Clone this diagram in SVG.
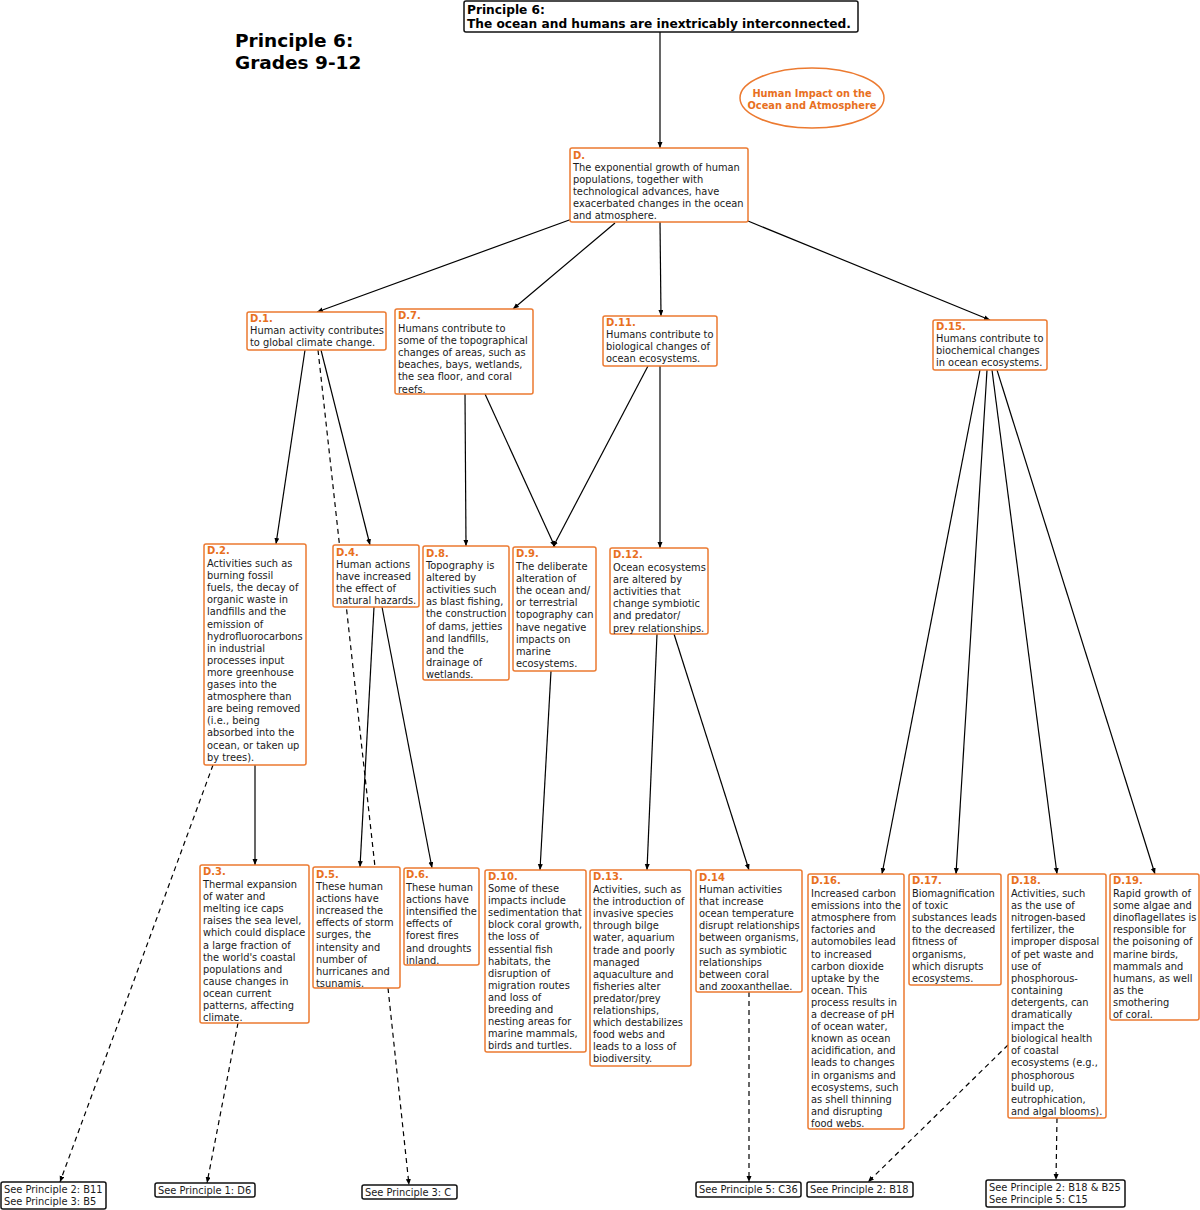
<svg xmlns="http://www.w3.org/2000/svg" width="1200" height="1210" viewBox="0 0 1200 1210">
<style>
.bg{fill:#fff}
.box{fill:#fff;stroke:#EC7A30;stroke-width:1.5}
.ref{fill:#fff;stroke:#111;stroke-width:1.5}
.lbl{font-family:"DejaVu Sans",Verdana,sans-serif;font-weight:bold;font-size:10px;fill:#E8701E}
.t{font-family:"DejaVu Sans",Verdana,sans-serif;font-size:9.85px;fill:#1a1a1a}
.tb{font-family:"DejaVu Sans",Verdana,sans-serif;font-weight:bold;fill:#000}
.ell{font-family:"DejaVu Sans",Verdana,sans-serif;font-weight:bold;font-size:9.8px;fill:#E8701E}
.c{stroke:#000;stroke-width:1.2;fill:none}
.d{stroke-dasharray:5 4}
</style>
<defs>
<marker id="ar" markerUnits="userSpaceOnUse" markerWidth="7" markerHeight="6" refX="6" refY="2.5" orient="auto">
<path d="M0,0 L6,2.5 L0,5 z" fill="#000"/>
</marker>
</defs>
<rect class="bg" x="0" y="0" width="1200" height="1210"/>

<g id="connectors">
<line class="c" x1="660" y1="32" x2="660" y2="148" marker-end="url(#ar)"/>
<line class="c" x1="572" y1="219" x2="317" y2="312" marker-end="url(#ar)"/>
<line class="c" x1="615" y1="223" x2="513" y2="309" marker-end="url(#ar)"/>
<line class="c" x1="660" y1="222" x2="661" y2="316" marker-end="url(#ar)"/>
<line class="c" x1="748" y1="221" x2="990" y2="320" marker-end="url(#ar)"/>
<line class="c" x1="305" y1="350" x2="276" y2="544" marker-end="url(#ar)"/>
<line class="c" x1="321" y1="350" x2="370" y2="545" marker-end="url(#ar)"/>
<line class="c d" x1="318" y1="350" x2="375" y2="867"/>
<line class="c" x1="465" y1="394" x2="466" y2="546" marker-end="url(#ar)"/>
<line class="c" x1="485" y1="394" x2="555" y2="547" marker-end="url(#ar)"/>
<line class="c" x1="648" y1="366" x2="553" y2="547" marker-end="url(#ar)"/>
<line class="c" x1="660" y1="366" x2="660" y2="548" marker-end="url(#ar)"/>
<line class="c" x1="980" y1="370" x2="882" y2="874" marker-end="url(#ar)"/>
<line class="c" x1="987" y1="370" x2="956" y2="874" marker-end="url(#ar)"/>
<line class="c" x1="992" y1="370" x2="1057" y2="874" marker-end="url(#ar)"/>
<line class="c" x1="997" y1="370" x2="1155" y2="874" marker-end="url(#ar)"/>
<line class="c" x1="255" y1="765" x2="255" y2="865" marker-end="url(#ar)"/>
<line class="c d" x1="213" y1="765" x2="60" y2="1182" marker-end="url(#ar)"/>
<line class="c" x1="374" y1="607" x2="360" y2="867" marker-end="url(#ar)"/>
<line class="c" x1="382" y1="607" x2="432" y2="868" marker-end="url(#ar)"/>
<line class="c" x1="551" y1="671" x2="540" y2="870" marker-end="url(#ar)"/>
<line class="c" x1="657" y1="634" x2="647" y2="870" marker-end="url(#ar)"/>
<line class="c" x1="674" y1="634" x2="749" y2="870" marker-end="url(#ar)"/>
<line class="c d" x1="238" y1="1023" x2="207" y2="1183" marker-end="url(#ar)"/>
<line class="c d" x1="388" y1="988" x2="409" y2="1185" marker-end="url(#ar)"/>
<line class="c d" x1="749" y1="992" x2="749" y2="1182" marker-end="url(#ar)"/>
<line class="c d" x1="1008" y1="1045" x2="868" y2="1182" marker-end="url(#ar)"/>
<line class="c d" x1="1057" y1="1118" x2="1056" y2="1180" marker-end="url(#ar)"/>
</g>

<g id="header">
<text class="tb" font-size="18.5" x="235" y="47">Principle 6:</text>
<text class="tb" font-size="18.5" x="235" y="69">Grades 9-12</text>
</g>

<g id="title">
<rect class="ref" x="464" y="1" width="394" height="31" rx="2"/>
<text class="tb" font-size="12.2" x="467" y="13.5">Principle 6:</text>
<text class="tb" font-size="12.2" x="467" y="28">The ocean and humans are inextricably interconnected.</text>
</g>

<g id="topic">
<ellipse cx="812" cy="98" rx="72" ry="30" fill="#fff" stroke="#EC7A30" stroke-width="1.5"/>
<text class="ell" x="812" y="97" text-anchor="middle">Human Impact on the</text>
<text class="ell" x="812" y="109" text-anchor="middle">Ocean and Atmosphere</text>
</g>

<g id="D">
<rect class="box" x="570" y="148" width="178" height="74" rx="2"/>
<text class="lbl" x="573" y="159">D.</text>
<text class="t" x="573" y="171"><tspan x="573">The exponential growth of human</tspan><tspan x="573" dy="12">populations, together with</tspan><tspan x="573" dy="12">technological advances, have</tspan><tspan x="573" dy="12">exacerbated changes in the ocean</tspan><tspan x="573" dy="12">and atmosphere.</tspan></text>
</g>

<g id="D1">
<rect class="box" x="247" y="312" width="139" height="38" rx="2"/>
<text class="lbl" x="250" y="322">D.1.</text>
<text class="t" x="250" y="334"><tspan x="250">Human activity contributes</tspan><tspan x="250" dy="12">to global climate change.</tspan></text>
</g>

<g id="D7">
<rect class="box" x="395" y="309" width="138" height="85" rx="2"/>
<text class="lbl" x="398" y="319">D.7.</text>
<text class="t" x="398" y="332"><tspan x="398">Humans contribute to</tspan><tspan x="398" dy="12.1">some of the topographical</tspan><tspan x="398" dy="12.1">changes of areas, such as</tspan><tspan x="398" dy="12.1">beaches, bays, wetlands,</tspan><tspan x="398" dy="12.1">the sea floor, and coral</tspan><tspan x="398" dy="12.1">reefs.</tspan></text>
</g>

<g id="D11">
<rect class="box" x="603" y="316" width="114" height="50" rx="2"/>
<text class="lbl" x="606" y="326">D.11.</text>
<text class="t" x="606" y="338"><tspan x="606">Humans contribute to</tspan><tspan x="606" dy="12">biological changes of</tspan><tspan x="606" dy="12">ocean ecosystems.</tspan></text>
</g>

<g id="D15">
<rect class="box" x="933" y="320" width="114" height="50" rx="2"/>
<text class="lbl" x="936" y="330">D.15.</text>
<text class="t" x="936" y="342"><tspan x="936">Humans contribute to</tspan><tspan x="936" dy="12">biochemical changes</tspan><tspan x="936" dy="12">in ocean ecosystems.</tspan></text>
</g>

<g id="D2">
<rect class="box" x="204" y="544" width="102" height="221" rx="2"/>
<text class="lbl" x="207" y="554">D.2.</text>
<text class="t" x="207" y="567"><tspan x="207">Activities such as</tspan><tspan x="207" dy="12.1">burning fossil</tspan><tspan x="207" dy="12.1">fuels, the decay of</tspan><tspan x="207" dy="12.1">organic waste in</tspan><tspan x="207" dy="12.1">landfills and the</tspan><tspan x="207" dy="12.1">emission of</tspan><tspan x="207" dy="12.1">hydrofluorocarbons</tspan><tspan x="207" dy="12.1">in industrial</tspan><tspan x="207" dy="12.1">processes input</tspan><tspan x="207" dy="12.1">more greenhouse</tspan><tspan x="207" dy="12.1">gases into the</tspan><tspan x="207" dy="12.1">atmosphere than</tspan><tspan x="207" dy="12.1">are being removed</tspan><tspan x="207" dy="12.1">(i.e., being</tspan><tspan x="207" dy="12.1">absorbed into the</tspan><tspan x="207" dy="12.1">ocean, or taken up</tspan><tspan x="207" dy="12.1">by trees).</tspan></text>
</g>

<g id="D4">
<rect class="box" x="333" y="545" width="86" height="62" rx="2"/>
<text class="lbl" x="336" y="556">D.4.</text>
<text class="t" x="336" y="568"><tspan x="336">Human actions</tspan><tspan x="336" dy="12">have increased</tspan><tspan x="336" dy="12">the effect of</tspan><tspan x="336" dy="12">natural hazards.</tspan></text>
</g>

<g id="D8">
<rect class="box" x="423" y="546" width="86" height="134" rx="2"/>
<text class="lbl" x="426" y="557">D.8.</text>
<text class="t" x="426" y="569"><tspan x="426">Topography is</tspan><tspan x="426" dy="12.1">altered by</tspan><tspan x="426" dy="12.1">activities such</tspan><tspan x="426" dy="12.1">as blast fishing,</tspan><tspan x="426" dy="12.1">the construction</tspan><tspan x="426" dy="12.1">of dams, jetties</tspan><tspan x="426" dy="12.1">and landfills,</tspan><tspan x="426" dy="12.1">and the</tspan><tspan x="426" dy="12.1">drainage of</tspan><tspan x="426" dy="12.1">wetlands.</tspan></text>
</g>

<g id="D9">
<rect class="box" x="513" y="547" width="83" height="124" rx="2"/>
<text class="lbl" x="516" y="557">D.9.</text>
<text class="t" x="516" y="570"><tspan x="516">The deliberate</tspan><tspan x="516" dy="12.1">alteration of</tspan><tspan x="516" dy="12.1">the ocean and/</tspan><tspan x="516" dy="12.1">or terrestrial</tspan><tspan x="516" dy="12.1">topography can</tspan><tspan x="516" dy="12.1">have negative</tspan><tspan x="516" dy="12.1">impacts on</tspan><tspan x="516" dy="12.1">marine</tspan><tspan x="516" dy="12.1">ecosystems.</tspan></text>
</g>

<g id="D12">
<rect class="box" x="610" y="548" width="98" height="86" rx="2"/>
<text class="lbl" x="613" y="558">D.12.</text>
<text class="t" x="613" y="571"><tspan x="613">Ocean ecosystems</tspan><tspan x="613" dy="12.1">are altered by</tspan><tspan x="613" dy="12.1">activities that</tspan><tspan x="613" dy="12.1">change symbiotic</tspan><tspan x="613" dy="12.1">and predator/</tspan><tspan x="613" dy="12.1">prey relationships.</tspan></text>
</g>

<g id="D3">
<rect class="box" x="200" y="865" width="109" height="158" rx="2"/>
<text class="lbl" x="203" y="875">D.3.</text>
<text class="t" x="203" y="888"><tspan x="203">Thermal expansion</tspan><tspan x="203" dy="12.1">of water and</tspan><tspan x="203" dy="12.1">melting ice caps</tspan><tspan x="203" dy="12.1">raises the sea level,</tspan><tspan x="203" dy="12.1">which could displace</tspan><tspan x="203" dy="12.1">a large fraction of</tspan><tspan x="203" dy="12.1">the world's coastal</tspan><tspan x="203" dy="12.1">populations and</tspan><tspan x="203" dy="12.1">cause changes in</tspan><tspan x="203" dy="12.1">ocean current</tspan><tspan x="203" dy="12.1">patterns, affecting</tspan><tspan x="203" dy="12.1">climate.</tspan></text>
</g>

<g id="D5">
<rect class="box" x="313" y="867" width="87" height="121" rx="2"/>
<text class="lbl" x="316" y="878">D.5.</text>
<text class="t" x="316" y="890"><tspan x="316">These human</tspan><tspan x="316" dy="12.1">actions have</tspan><tspan x="316" dy="12.1">increased the</tspan><tspan x="316" dy="12.1">effects of storm</tspan><tspan x="316" dy="12.1">surges, the</tspan><tspan x="316" dy="12.1">intensity and</tspan><tspan x="316" dy="12.1">number of</tspan><tspan x="316" dy="12.1">hurricanes and</tspan><tspan x="316" dy="12.1">tsunamis.</tspan></text>
</g>

<g id="D6">
<rect class="box" x="404" y="868" width="75" height="97" rx="2"/>
<text class="lbl" x="406" y="878">D.6.</text>
<text class="t" x="406" y="891"><tspan x="406">These human</tspan><tspan x="406" dy="12.1">actions have</tspan><tspan x="406" dy="12.1">intensified the</tspan><tspan x="406" dy="12.1">effects of</tspan><tspan x="406" dy="12.1">forest fires</tspan><tspan x="406" dy="12.1">and droughts</tspan><tspan x="406" dy="12.1">inland.</tspan></text>
</g>

<g id="D10">
<rect class="box" x="485" y="870" width="101" height="182" rx="2"/>
<text class="lbl" x="488" y="880">D.10.</text>
<text class="t" x="488" y="892"><tspan x="488">Some of these</tspan><tspan x="488" dy="12.1">impacts include</tspan><tspan x="488" dy="12.1">sedimentation that</tspan><tspan x="488" dy="12.1">block coral growth,</tspan><tspan x="488" dy="12.1">the loss of</tspan><tspan x="488" dy="12.1">essential fish</tspan><tspan x="488" dy="12.1">habitats, the</tspan><tspan x="488" dy="12.1">disruption of</tspan><tspan x="488" dy="12.1">migration routes</tspan><tspan x="488" dy="12.1">and loss of</tspan><tspan x="488" dy="12.1">breeding and</tspan><tspan x="488" dy="12.1">nesting areas for</tspan><tspan x="488" dy="12.1">marine mammals,</tspan><tspan x="488" dy="12.1">birds and turtles.</tspan></text>
</g>

<g id="D13">
<rect class="box" x="590" y="870" width="101" height="196" rx="2"/>
<text class="lbl" x="593" y="880">D.13.</text>
<text class="t" x="593" y="893"><tspan x="593">Activities, such as</tspan><tspan x="593" dy="12.1">the introduction of</tspan><tspan x="593" dy="12.1">invasive species</tspan><tspan x="593" dy="12.1">through bilge</tspan><tspan x="593" dy="12.1">water, aquarium</tspan><tspan x="593" dy="12.1">trade and poorly</tspan><tspan x="593" dy="12.1">managed</tspan><tspan x="593" dy="12.1">aquaculture and</tspan><tspan x="593" dy="12.1">fisheries alter</tspan><tspan x="593" dy="12.1">predator/prey</tspan><tspan x="593" dy="12.1">relationships,</tspan><tspan x="593" dy="12.1">which destabilizes</tspan><tspan x="593" dy="12.1">food webs and</tspan><tspan x="593" dy="12.1">leads to a loss of</tspan><tspan x="593" dy="12.1">biodiversity.</tspan></text>
</g>

<g id="D14">
<rect class="box" x="696" y="870" width="106" height="122" rx="2"/>
<text class="lbl" x="699" y="881">D.14</text>
<text class="t" x="699" y="893"><tspan x="699">Human activities</tspan><tspan x="699" dy="12.1">that increase</tspan><tspan x="699" dy="12.1">ocean temperature</tspan><tspan x="699" dy="12.1">disrupt relationships</tspan><tspan x="699" dy="12.1">between organisms,</tspan><tspan x="699" dy="12.1">such as symbiotic</tspan><tspan x="699" dy="12.1">relationships</tspan><tspan x="699" dy="12.1">between coral</tspan><tspan x="699" dy="12.1">and zooxanthellae.</tspan></text>
</g>

<g id="D16">
<rect class="box" x="808" y="874" width="96" height="255" rx="2"/>
<text class="lbl" x="811" y="884">D.16.</text>
<text class="t" x="811" y="897"><tspan x="811">Increased carbon</tspan><tspan x="811" dy="12.1">emissions into the</tspan><tspan x="811" dy="12.1">atmosphere from</tspan><tspan x="811" dy="12.1">factories and</tspan><tspan x="811" dy="12.1">automobiles lead</tspan><tspan x="811" dy="12.1">to increased</tspan><tspan x="811" dy="12.1">carbon dioxide</tspan><tspan x="811" dy="12.1">uptake by the</tspan><tspan x="811" dy="12.1">ocean. This</tspan><tspan x="811" dy="12.1">process results in</tspan><tspan x="811" dy="12.1">a decrease of pH</tspan><tspan x="811" dy="12.1">of ocean water,</tspan><tspan x="811" dy="12.1">known as ocean</tspan><tspan x="811" dy="12.1">acidification, and</tspan><tspan x="811" dy="12.1">leads to changes</tspan><tspan x="811" dy="12.1">in organisms and</tspan><tspan x="811" dy="12.1">ecosystems, such</tspan><tspan x="811" dy="12.1">as shell thinning</tspan><tspan x="811" dy="12.1">and disrupting</tspan><tspan x="811" dy="12.1">food webs.</tspan></text>
</g>

<g id="D17">
<rect class="box" x="909" y="874" width="92" height="111" rx="2"/>
<text class="lbl" x="912" y="884">D.17.</text>
<text class="t" x="912" y="897"><tspan x="912">Biomagnification</tspan><tspan x="912" dy="12.1">of toxic</tspan><tspan x="912" dy="12.1">substances leads</tspan><tspan x="912" dy="12.1">to the decreased</tspan><tspan x="912" dy="12.1">fitness of</tspan><tspan x="912" dy="12.1">organisms,</tspan><tspan x="912" dy="12.1">which disrupts</tspan><tspan x="912" dy="12.1">ecosystems.</tspan></text>
</g>

<g id="D18">
<rect class="box" x="1008" y="874" width="98" height="244" rx="2"/>
<text class="lbl" x="1011" y="884">D.18.</text>
<text class="t" x="1011" y="897"><tspan x="1011">Activities, such</tspan><tspan x="1011" dy="12.1">as the use of</tspan><tspan x="1011" dy="12.1">nitrogen-based</tspan><tspan x="1011" dy="12.1">fertilizer, the</tspan><tspan x="1011" dy="12.1">improper disposal</tspan><tspan x="1011" dy="12.1">of pet waste and</tspan><tspan x="1011" dy="12.1">use of</tspan><tspan x="1011" dy="12.1">phosphorous-</tspan><tspan x="1011" dy="12.1">containing</tspan><tspan x="1011" dy="12.1">detergents, can</tspan><tspan x="1011" dy="12.1">dramatically</tspan><tspan x="1011" dy="12.1">impact the</tspan><tspan x="1011" dy="12.1">biological health</tspan><tspan x="1011" dy="12.1">of coastal</tspan><tspan x="1011" dy="12.1">ecosystems (e.g.,</tspan><tspan x="1011" dy="12.1">phosphorous</tspan><tspan x="1011" dy="12.1">build up,</tspan><tspan x="1011" dy="12.1">eutrophication,</tspan><tspan x="1011" dy="12.1">and algal blooms).</tspan></text>
</g>

<g id="D19">
<rect class="box" x="1110" y="874" width="89" height="146" rx="2"/>
<text class="lbl" x="1113" y="884">D.19.</text>
<text class="t" x="1113" y="897"><tspan x="1113">Rapid growth of</tspan><tspan x="1113" dy="12.1">some algae and</tspan><tspan x="1113" dy="12.1">dinoflagellates is</tspan><tspan x="1113" dy="12.1">responsible for</tspan><tspan x="1113" dy="12.1">the poisoning of</tspan><tspan x="1113" dy="12.1">marine birds,</tspan><tspan x="1113" dy="12.1">mammals and</tspan><tspan x="1113" dy="12.1">humans, as well</tspan><tspan x="1113" dy="12.1">as the</tspan><tspan x="1113" dy="12.1">smothering</tspan><tspan x="1113" dy="12.1">of coral.</tspan></text>
</g>

<g id="R1">
<rect class="ref" x="1" y="1182" width="105" height="27" rx="2"/>
<text class="t" x="4" y="1193"><tspan x="4">See Principle 2: B11</tspan><tspan x="4" dy="12">See Principle 3: B5</tspan></text>
</g>
<g id="R2">
<rect class="ref" x="155" y="1183" width="100" height="14" rx="2"/>
<text class="t" x="158" y="1194">See Principle 1: D6</text>
</g>
<g id="R3">
<rect class="ref" x="362" y="1185" width="95" height="14" rx="2"/>
<text class="t" x="365" y="1196">See Principle 3: C</text>
</g>
<g id="R4">
<rect class="ref" x="696" y="1182" width="105" height="15" rx="2"/>
<text class="t" x="699" y="1193">See Principle 5: C36</text>
</g>
<g id="R5">
<rect class="ref" x="807" y="1182" width="106" height="15" rx="2"/>
<text class="t" x="810" y="1193">See Principle 2: B18</text>
</g>
<g id="R6">
<rect class="ref" x="986" y="1180" width="139" height="27" rx="2"/>
<text class="t" x="989" y="1191"><tspan x="989">See Principle 2: B18 &amp; B25</tspan><tspan x="989" dy="12">See Principle 5: C15</tspan></text>
</g>
</svg>
